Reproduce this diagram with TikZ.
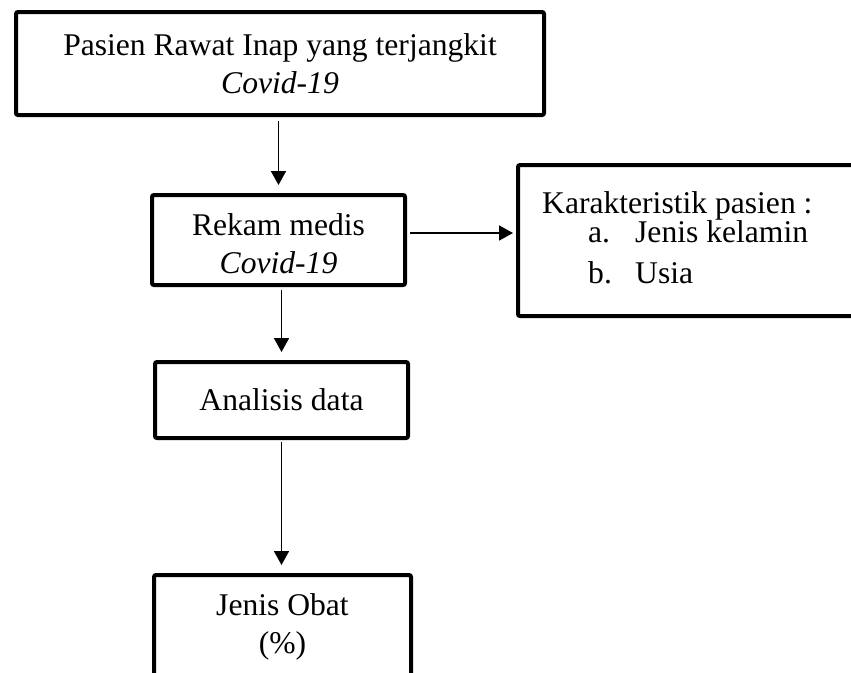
\documentclass[tikz,border=0pt]{standalone}
\usepackage{fontspec}
\setmainfont{Liberation Serif}
\usetikzlibrary{arrows.meta}
\tikzset{
  kotak/.style={draw, line width=4pt, rounded corners=2pt, align=center, inner sep=0pt},
  teks/.style={inner sep=0pt},
  panah/.style={line width=1.8pt, -{Triangle[length=14pt,width=15pt]}}
}
\begin{document}
\begin{tikzpicture}[x=1pt,y=-1pt,font=\fontsize{31.6}{38}\selectfont]
\clip (0,0) rectangle (851,672);
% kotak utama
\node[kotak, minimum width=528pt, minimum height=103pt] (pasien) at (280,63.5) {Pasien Rawat Inap yang terjangkit\\ \textit{Covid-19}};
\node[kotak, minimum width=253pt, minimum height=90pt] (rekam) at (278.5,240) {\rule{0pt}{30pt}Rekam medis\\ \textit{Covid-19}};
\node[kotak, minimum width=253pt, minimum height=76pt] (analisis) at (281.5,400) {Analisis data};
\node[kotak, minimum width=257pt, minimum height=140pt] (obatbox) at (282.5,645) {};
\node[teks, anchor=north, align=center] (obat) at (282.5,593.5) {Jenis Obat\\ (\%)};
% karakteristik
\node[kotak, minimum width=382pt, minimum height=151pt] (karakbox) at (709,240.5) {};
\node[teks, anchor=north west, align=left] (karak) at (542,191.5) {Karakteristik pasien :\\[-9pt]
  \hspace*{46pt}\makebox[47pt][l]{a.}Jenis kelamin\\[3pt]
  \hspace*{46pt}\makebox[47pt][l]{b.}Usia};
% panah
\draw[panah, shorten <=4pt, shorten >=8pt] (pasien.south -| rekam.north) -- (rekam.north);
\draw[panah, shorten <=3pt, shorten >=8pt] (rekam.south -| analisis.north) -- (analisis.north);
\draw[panah, shorten <=2pt, shorten >=8pt] (analisis.south) -- (analisis.south |- obatbox.north);
\draw[panah, shorten <=3pt, shorten >=3pt] ([yshift=7pt]rekam.east) -- ([yshift=7pt]rekam.east -| karakbox.west);
\end{tikzpicture}
\end{document}
